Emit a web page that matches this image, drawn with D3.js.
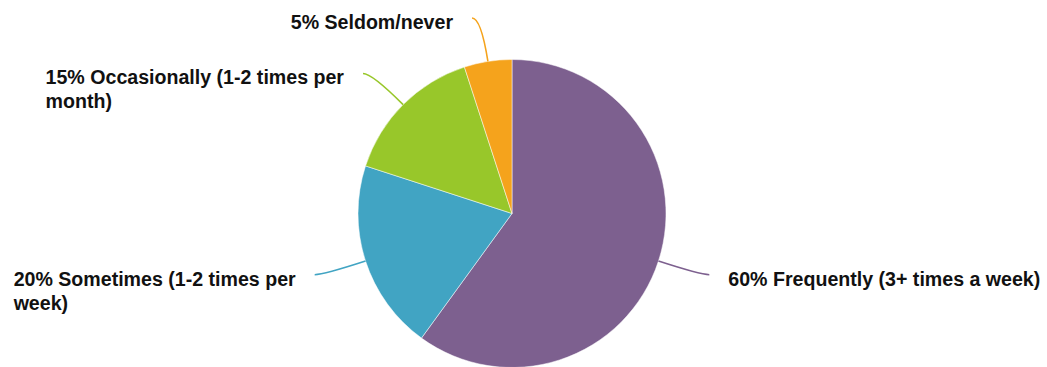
<!DOCTYPE html>
<html>
<head>
<meta charset="utf-8">
<script src="https://cdn.jsdelivr.net/npm/d3@7"></script>
<style>
  html, body { margin: 0; padding: 0; background: #fff; }
  svg { display: block; }
</style>
</head>
<body>
<svg id="chart" width="1047" height="367"></svg>
<script>
// ---- data ----
const categories = [
  "Frequently (3+ times a week)",
  "Sometimes (1-2 times per week)",
  "Occasionally (1-2 times per month)",
  "Seldom/never"
];
const values = [60, 20, 15, 5];
const colors = ["#7D608F", "#41A4C3", "#98C72A", "#F5A31C"];

// ---- layout ----
const W = 1047, H = 367;
const cx = 512, cy = 213.5, r = 154;
const labelDist = 44, hExt = 9, textGap = 19, leftMargin = 10;
const fontSize = 19.6, lineHeight = 24;

const svg = d3.select("#chart");
const g = svg.append("g").attr("transform", `translate(${cx},${cy})`);

const pie = d3.pie().sort(null).value(d => d.value);
const data = categories.map((c, i) => ({ name: c, value: values[i], color: colors[i] }));
const arcs = pie(data);
const arc = d3.arc().innerRadius(0).outerRadius(r);

g.selectAll("path.slice").data(arcs).join("path")
  .attr("class", "slice")
  .attr("d", arc)
  .attr("fill", d => d.data.color)
  .attr("stroke", "#fff")
  .attr("stroke-width", 0.5);

const total = d3.sum(values);
const measure = svg.append("text")
  .attr("font-family", "Liberation Sans, Arial, Helvetica, sans-serif")
  .attr("font-weight", "bold").attr("font-size", fontSize).attr("visibility", "hidden");
function textW(s) { measure.text(s); return measure.node().getComputedTextLength(); }

function wrap(text, maxW) {
  const words = text.split(" ");
  const lines = [];
  let cur = "";
  for (const w of words) {
    const t = cur ? cur + " " + w : w;
    if (cur && textW(t) > maxW) { lines.push(cur); cur = w; }
    else cur = t;
  }
  if (cur) lines.push(cur);
  return lines;
}

arcs.forEach(a => {
  const mid = (a.startAngle + a.endAngle) / 2;
  const s = Math.sin(mid), c = -Math.cos(mid);
  const p0 = [s * r, c * r];
  const pc = [s * (r + labelDist), c * (r + labelDist)];
  const side = s >= 0 ? 1 : -1;
  const p1 = [pc[0] + side * hExt, pc[1]];
  const path = d3.path();
  path.moveTo(p0[0], p0[1]);
  path.quadraticCurveTo(pc[0], pc[1], p1[0], p1[1]);
  g.append("path").attr("d", path.toString())
    .attr("fill", "none").attr("stroke", a.data.color).attr("stroke-width", 1.6);

  const pct = Math.round(a.data.value / total * 100);
  const label = `${pct}% ${a.data.name}`;
  const ex = cx + p1[0], ey = cy + p1[1];
  let lines, x;
  if (side > 0) {
    x = ex + textGap;
    lines = wrap(label, W - x);
  } else {
    const right = ex - textGap;
    lines = wrap(label, right - leftMargin);
    const bw = d3.max(lines, l => textW(l));
    x = right - bw;
  }
  const t = svg.append("text")
    .attr("font-family", "Liberation Sans, Arial, Helvetica, sans-serif")
    .attr("font-weight", "bold").attr("font-size", fontSize).attr("fill", "#111");
  lines.forEach((l, i) => {
    t.append("tspan").attr("x", x).attr("y", ey + 11 + i * lineHeight).text(l);
  });
});
measure.remove();
</script>
</body>
</html>
